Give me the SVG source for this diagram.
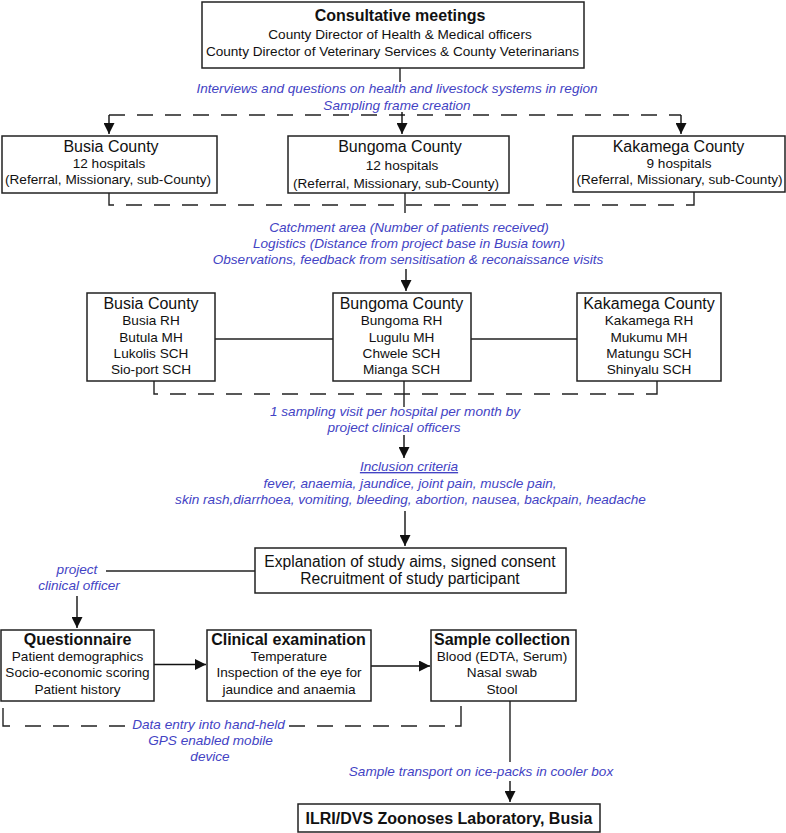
<svg xmlns="http://www.w3.org/2000/svg" width="786" height="833" viewBox="0 0 786 833">
<defs>
<marker id="ah" viewBox="0 0 11 11" markerWidth="11" markerHeight="11" refX="11" refY="5.5" orient="auto" markerUnits="userSpaceOnUse">
<path d="M0,0 L11,5.5 L0,11 z" fill="#111"/>
</marker>
<style>
.box{fill:#fff;stroke:#222;stroke-width:1.5}
text{font-family:"Liberation Sans",Arial,sans-serif;text-anchor:middle;fill:#111}
.t{font-size:16px}
.s{font-size:13.6px}
.b{font-size:16px;font-weight:bold}
.i{font-size:13.6px;font-style:italic;fill:#4343c4}
.ln{fill:none;stroke:#222;stroke-width:1.4}
.ds{fill:none;stroke:#222;stroke-width:1.5;stroke-dasharray:16 12}
.ar{fill:none;stroke:#111;stroke-width:1.4;marker-end:url(#ah)}
</style>
</defs>
<rect width="786" height="833" fill="#fff"/>

<g id="connectors">
<path class="ln" d="M400,68 V82"/>
<path class="ds" d="M109,115 H681"/>
<path class="ar" d="M109,115 V134"/>
<path class="ar" d="M402,112 V134"/>
<path class="ar" d="M681,115 V134"/>
<path class="ln" d="M109,193 V205 H114"/>
<path class="ds" d="M126,205 H690"/>
<path class="ln" d="M690,205 H694 V192"/>
<path class="ln" d="M405,193 V213"/>
<path class="ar" d="M406,269 V291"/>
<path class="ln" d="M215,339 H333 M471,339 H577"/>
<path class="ln" d="M154,381 V394 H158"/>
<path class="ds" d="M170,394 H653"/>
<path class="ln" d="M653,394 H657 V381"/>
<path class="ln" d="M404,381 V407"/>
<path class="ar" d="M404,435 V458"/>
<path class="ar" d="M405,511 V546"/>
<path class="ln" d="M106,571 H255"/>
<path class="ar" d="M77,596 V628"/>
<path class="ar" d="M154,664.5 H206"/>
<path class="ar" d="M371,666 H430"/>
<path class="ln" d="M3,708 V726 H10"/>
<path class="ds" d="M25,726 H125"/>
<path class="ds" d="M289,726 H455"/>
<path class="ln" d="M455,726 H461 V706"/>
<path class="ln" d="M510,701 V762"/>
<path class="ar" d="M510,781 V802"/>
</g>

<g id="consultative">
<rect class="box" x="202" y="2" width="382" height="66"/>
<text class="b" x="400" y="21">Consultative meetings</text>
<text class="s" x="400" y="39">County Director of Health &amp; Medical officers</text>
<text class="s" x="392.5" y="56">County Director of Veterinary Services &amp; County Veterinarians</text>
</g>

<g id="label-interviews">
<text class="i" x="397" y="93">Interviews and questions on health and livestock systems in region</text>
<text class="i" x="397" y="110">Sampling frame creation</text>
</g>

<g id="busia1">
<rect class="box" x="2" y="136" width="215" height="57"/>
<text class="t" x="111" y="152">Busia County</text>
<text class="s" x="109" y="168">12 hospitals</text>
<text class="s" x="108" y="184">(Referral, Missionary, sub-County)</text>
</g>
<g id="bungoma1">
<rect class="box" x="288" y="136" width="221" height="57"/>
<text class="t" x="400" y="152">Bungoma County</text>
<text class="s" x="402" y="170">12 hospitals</text>
<text class="s" x="396" y="187.5">(Referral, Missionary, sub-County)</text>
</g>
<g id="kakamega1">
<rect class="box" x="573" y="136" width="212" height="56"/>
<text class="t" x="678.5" y="152">Kakamega County</text>
<text class="s" x="679" y="168">9 hospitals</text>
<text class="s" x="679.5" y="184">(Referral, Missionary, sub-County)</text>
</g>

<g id="label-catchment">
<text class="i" x="409" y="232">Catchment area (Number of patients received)</text>
<text class="i" x="409" y="248">Logistics (Distance from project base in Busia town)</text>
<text class="i" x="408" y="264">Observations, feedback from sensitisation &amp; reconaissance visits</text>
</g>

<g id="busia2">
<rect class="box" x="87" y="293" width="128" height="88"/>
<text class="t" x="151" y="308.5">Busia County</text>
<text class="s" x="151" y="325">Busia RH</text>
<text class="s" x="151" y="341.5">Butula MH</text>
<text class="s" x="151" y="357.5">Lukolis SCH</text>
<text class="s" x="151" y="374">Sio-port SCH</text>
</g>
<g id="bungoma2">
<rect class="box" x="333" y="293" width="138" height="88"/>
<text class="t" x="401.5" y="308.5">Bungoma County</text>
<text class="s" x="401.5" y="325">Bungoma RH</text>
<text class="s" x="401.5" y="341.5">Lugulu MH</text>
<text class="s" x="401.5" y="357.5">Chwele SCH</text>
<text class="s" x="401.5" y="374">Mianga SCH</text>
</g>
<g id="kakamega2">
<rect class="box" x="577" y="293" width="144" height="88"/>
<text class="t" x="649" y="308.5">Kakamega County</text>
<text class="s" x="649" y="325">Kakamega RH</text>
<text class="s" x="649" y="341.5">Mukumu MH</text>
<text class="s" x="649" y="357.5">Matungu SCH</text>
<text class="s" x="649" y="374">Shinyalu SCH</text>
</g>

<g id="label-visit">
<text class="i" x="395" y="416">1 sampling visit per hospital per month by</text>
<text class="i" x="394" y="432">project clinical officers</text>
</g>

<g id="inclusion">
<text class="i" x="409" y="471" text-decoration="underline">Inclusion criteria</text>
<text class="i" x="410" y="488">fever, anaemia, jaundice, joint pain, muscle pain,</text>
<text class="i" x="410.5" y="503.5">skin rash,diarrhoea, vomiting, bleeding, abortion, nausea, backpain, headache</text>
</g>

<g id="explanation">
<rect class="box" x="255" y="548" width="311" height="45"/>
<text class="t" x="410" y="567" style="font-size:15.6px">Explanation of study aims, signed consent</text>
<text class="t" x="410" y="584" style="font-size:15.6px">Recruitment of study participant</text>
</g>

<g id="label-officer">
<text class="i" x="77" y="574">project</text>
<text class="i" x="79" y="590">clinical officer</text>
</g>

<g id="questionnaire">
<rect class="box" x="1" y="630" width="153" height="71"/>
<text class="b" x="77.5" y="644.5">Questionnaire</text>
<text class="s" x="77.5" y="661">Patient demographics</text>
<text class="s" x="77.5" y="677">Socio-economic scoring</text>
<text class="s" x="77.5" y="693.5">Patient history</text>
</g>
<g id="clinical">
<rect class="box" x="207" y="630" width="164" height="71"/>
<text class="b" x="288.5" y="644.5">Clinical examination</text>
<text class="s" x="289" y="661">Temperature</text>
<text class="s" x="289" y="677">Inspection of the eye for</text>
<text class="s" x="289" y="693.5">jaundice and anaemia</text>
</g>
<g id="sample">
<rect class="box" x="431" y="630" width="145" height="71"/>
<text class="b" x="502" y="644.5">Sample collection</text>
<text class="s" x="502" y="661">Blood (EDTA, Serum)</text>
<text class="s" x="502" y="677">Nasal swab</text>
<text class="s" x="502" y="693.5">Stool</text>
</g>

<g id="label-data">
<text class="i" x="208.5" y="729">Data entry into hand-held</text>
<text class="i" x="210.5" y="745">GPS enabled mobile</text>
<text class="i" x="210" y="761">device</text>
</g>

<g id="label-transport">
<text class="i" x="481" y="776">Sample transport on ice-packs in cooler box</text>
</g>

<g id="lab">
<rect class="box" x="298" y="804" width="302" height="28"/>
<text class="b" x="449" y="824">ILRI/DVS Zoonoses Laboratory, Busia</text>
</g>
</svg>
